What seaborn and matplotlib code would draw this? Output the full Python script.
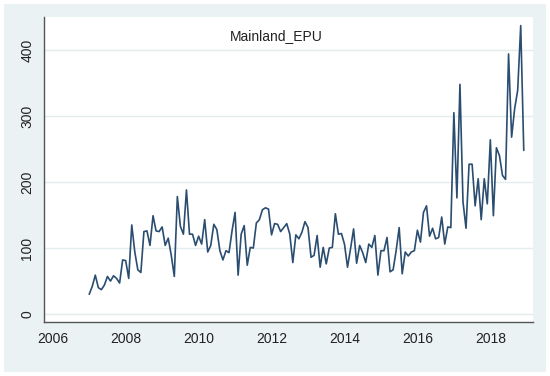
import numpy as np
import pandas as pd
import matplotlib
matplotlib.use("Agg")
import matplotlib.pyplot as plt
from matplotlib.patches import Rectangle
import seaborn as sns

# monthly Mainland EPU index (Jan..Dec)
epu_2007 = [30, 42, 59, 40, 37, 44, 57, 50, 58, 54, 47, 82]
epu_2008 = [81, 54, 135, 94, 67, 63, 125, 126, 104, 149, 126, 125]
epu_2009 = [132, 104, 115, 89, 57, 178, 133, 121, 188, 121, 121, 104]
epu_2010 = [118, 106, 143, 94, 104, 136, 128, 96, 82, 96, 93, 126]
epu_2011 = [154, 59, 121, 134, 74, 101, 100, 138, 143, 158, 161, 159]
epu_2012 = [120, 137, 136, 125, 131, 137, 121, 78, 120, 114, 124, 140]
epu_2013 = [131, 86, 89, 119, 71, 101, 76, 100, 101, 152, 121, 122]
epu_2014 = [106, 71, 99, 129, 77, 104, 93, 78, 106, 101, 119, 59]
epu_2015 = [96, 96, 116, 64, 67, 96, 131, 61, 94, 88, 94, 96]
epu_2016 = [127, 109, 154, 164, 118, 130, 114, 116, 147, 106, 132, 131]
epu_2017 = [305, 176, 348, 170, 130, 227, 227, 164, 205, 143, 205, 167]
epu_2018 = [264, 149, 252, 240, 210, 204, 394, 268, 311, 339, 437, 248]

years = list(range(2007, 2019))
x_ticks = [2006, 2008, 2010, 2012, 2014, 2016, 2018]
y_ticks = [0, 100, 200, 300, 400]
title = "Mainland_EPU"

series = [epu_2007, epu_2008, epu_2009, epu_2010, epu_2011, epu_2012,
          epu_2013, epu_2014, epu_2015, epu_2016, epu_2017, epu_2018]
rows = []
for yr, vals in zip(years, series):
    for m, v in enumerate(vals):
        rows.append((yr + m / 12.0, v))
df = pd.DataFrame(rows, columns=["date", "Mainland_EPU"])

sns.set_style("white")
plt.rcParams["font.family"] = ["Liberation Sans", "DejaVu Sans"]

bg = "#eaf2f3"
fig = plt.figure(figsize=(5.5, 3.76), dpi=100, facecolor="white")
fig.patches.append(Rectangle((4 / 550, 4 / 376), 542 / 550, 368 / 376,
                             transform=fig.transFigure, facecolor=bg,
                             edgecolor="none", zorder=-5))
ax = fig.add_axes([44 / 550, 54 / 376, 489 / 550, 305 / 376])
ax.set_zorder(2)
ax.set_facecolor("white")

sns.lineplot(data=df, x="date", y="Mainland_EPU", ax=ax,
             color="#2a4d70", linewidth=1.2)

ax.set_xlim(2005.76, 2019.17)
ax.set_ylim(-12, 450)
ax.set_xticks(x_ticks)
ax.set_yticks(y_ticks)
ax.set_xlabel("")
ax.set_ylabel("")
ax.grid(axis="y", color="#e4ecef", linewidth=1)
ax.set_axisbelow(True)

for s in ["top", "right"]:
    ax.spines[s].set_visible(False)
for s in ["left", "bottom"]:
    ax.spines[s].set_color("#555555")
    ax.spines[s].set_linewidth(1)

ax.tick_params(axis="both", direction="out", length=4, width=1,
               color="#555555", labelsize=10, labelcolor="#222222")
ax.tick_params(axis="x", pad=3)
ax.tick_params(axis="y", pad=3)
for lab in ax.get_yticklabels():
    lab.set_rotation(90)
    lab.set_va("center")

ax.text((276 - 44) / 489, (322 - 36) / 305, title, transform=ax.transAxes,
        ha="center", va="center", fontsize=10, color="#222222")

fig.savefig("out.png", dpi=100, facecolor="white")
